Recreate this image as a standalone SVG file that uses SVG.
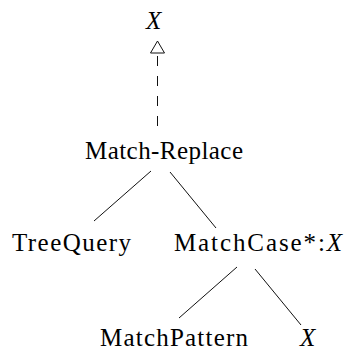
<svg xmlns="http://www.w3.org/2000/svg" width="345" height="352" viewBox="0 0 345 352">
  <style>
    text { font-family: "Liberation Serif", "Times New Roman", "DejaVu Serif", serif; font-size: 25px; fill: #000; }
    .it { font-style: italic; }
    .edge { stroke: #111; stroke-width: 1; fill: none; }
    .dash { stroke: #111; stroke-width: 1; fill: none; stroke-dasharray: 10 10; }
    .head { fill: #fff; stroke: #111; stroke-width: 1; }
  </style>
  <rect width="345" height="352" fill="#fff"/>

  <g id="connectors">
    <!-- realisation link: dashed shaft with an open triangle head -->
    <line class="dash" x1="157.5" y1="126" x2="157.5" y2="53"/>
    <path class="head" d="M157.5,41 L164.5,53 L150.5,53 Z"/>
    <!-- tree edges -->
    <line class="edge" x1="151" y1="171" x2="94" y2="221"/>
    <line class="edge" x1="170" y1="172" x2="216" y2="228"/>
    <line class="edge" x1="237" y1="267" x2="179" y2="318"/>
    <line class="edge" x1="255" y1="269" x2="301" y2="325"/>
  </g>

  <g id="node-x-top">
    <text class="it" x="146" y="29" textLength="18">X</text>
  </g>
  <g id="node-match-replace">
    <text x="85" y="159" textLength="158">Match-Replace</text>
  </g>
  <g id="node-treequery">
    <text x="12" y="251" textLength="119">TreeQuery</text>
  </g>
  <g id="node-matchcase">
    <text x="174" y="251" textLength="168">MatchCase*:<tspan class="it">X</tspan></text>
  </g>
  <g id="node-matchpattern">
    <text x="100" y="346" textLength="148">MatchPattern</text>
  </g>
  <g id="node-x-bottom">
    <text class="it" x="300" y="346" textLength="19">X</text>
  </g>
</svg>
